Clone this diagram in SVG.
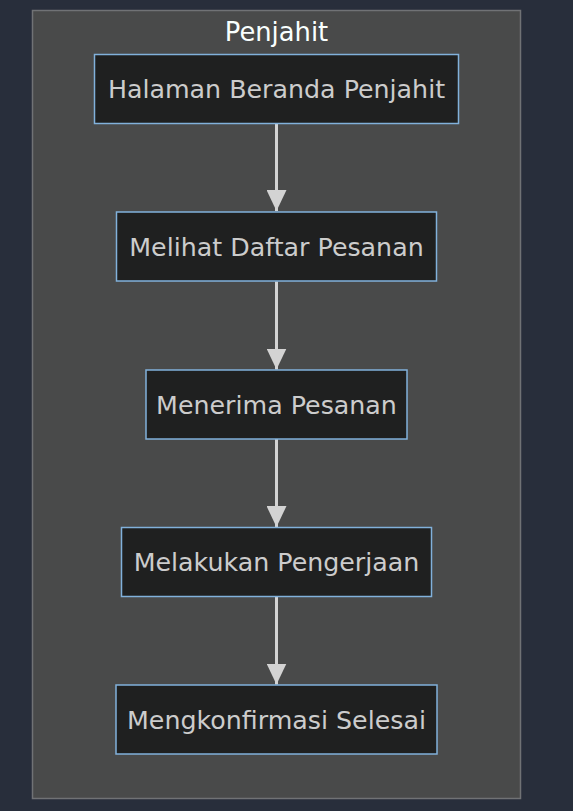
<svg xmlns="http://www.w3.org/2000/svg" width="573" height="811" viewBox="0 0 573 811">
<style>
.node rect{fill:#1f2020;stroke:#81b1db;stroke-width:1.5}
.node text{fill:#cccccc;font-family:"DejaVu Sans",sans-serif;font-size:25.3px;text-anchor:middle}
.edge{stroke:#d3d3d3;stroke-width:3;fill:none}
.title{fill:#f9fffe;font-family:"DejaVu Sans",sans-serif;font-size:25.8px;text-anchor:middle}
</style>
<defs>
<marker id="arrow" viewBox="0 0 21 20" refX="21" refY="10" markerWidth="21" markerHeight="20" markerUnits="userSpaceOnUse" orient="auto">
<path d="M0,0 L21,10 L0,20 z" fill="#d3d3d3"/>
</marker>
</defs>
<rect x="0" y="0" width="573" height="811" fill="#282e3b"/>
<g id="cluster-Penjahit">
<rect x="32.5" y="10.5" width="488" height="788" fill="#494a4a" stroke="#707275" stroke-width="1.5"/>
<text class="title" x="276.5" y="40.5">Penjahit</text>
</g>
<g id="connectors">
<path class="edge" d="M276.5,124 L276.5,211" marker-end="url(#arrow)"/>
<path class="edge" d="M276.5,281.5 L276.5,369.5" marker-end="url(#arrow)"/>
<path class="edge" d="M276.5,439 L276.5,527" marker-end="url(#arrow)"/>
<path class="edge" d="M276.5,597 L276.5,684.5" marker-end="url(#arrow)"/>
</g>
<g id="node1" class="node">
<rect x="94.5" y="54.5" width="364" height="69"/>
<text x="276.5" y="98">Halaman Beranda Penjahit</text>
</g>
<g id="node2" class="node">
<rect x="116.5" y="212" width="320" height="69"/>
<text x="276.5" y="255.5">Melihat Daftar Pesanan</text>
</g>
<g id="node3" class="node">
<rect x="146" y="370" width="261" height="69"/>
<text x="276.5" y="413.5">Menerima Pesanan</text>
</g>
<g id="node4" class="node">
<rect x="121.5" y="527.5" width="310" height="69"/>
<text x="276.5" y="571">Melakukan Pengerjaan</text>
</g>
<g id="node5" class="node">
<rect x="116" y="685" width="321" height="69"/>
<text x="276.5" y="728.5">Mengkonfirmasi Selesai</text>
</g>
</svg>
